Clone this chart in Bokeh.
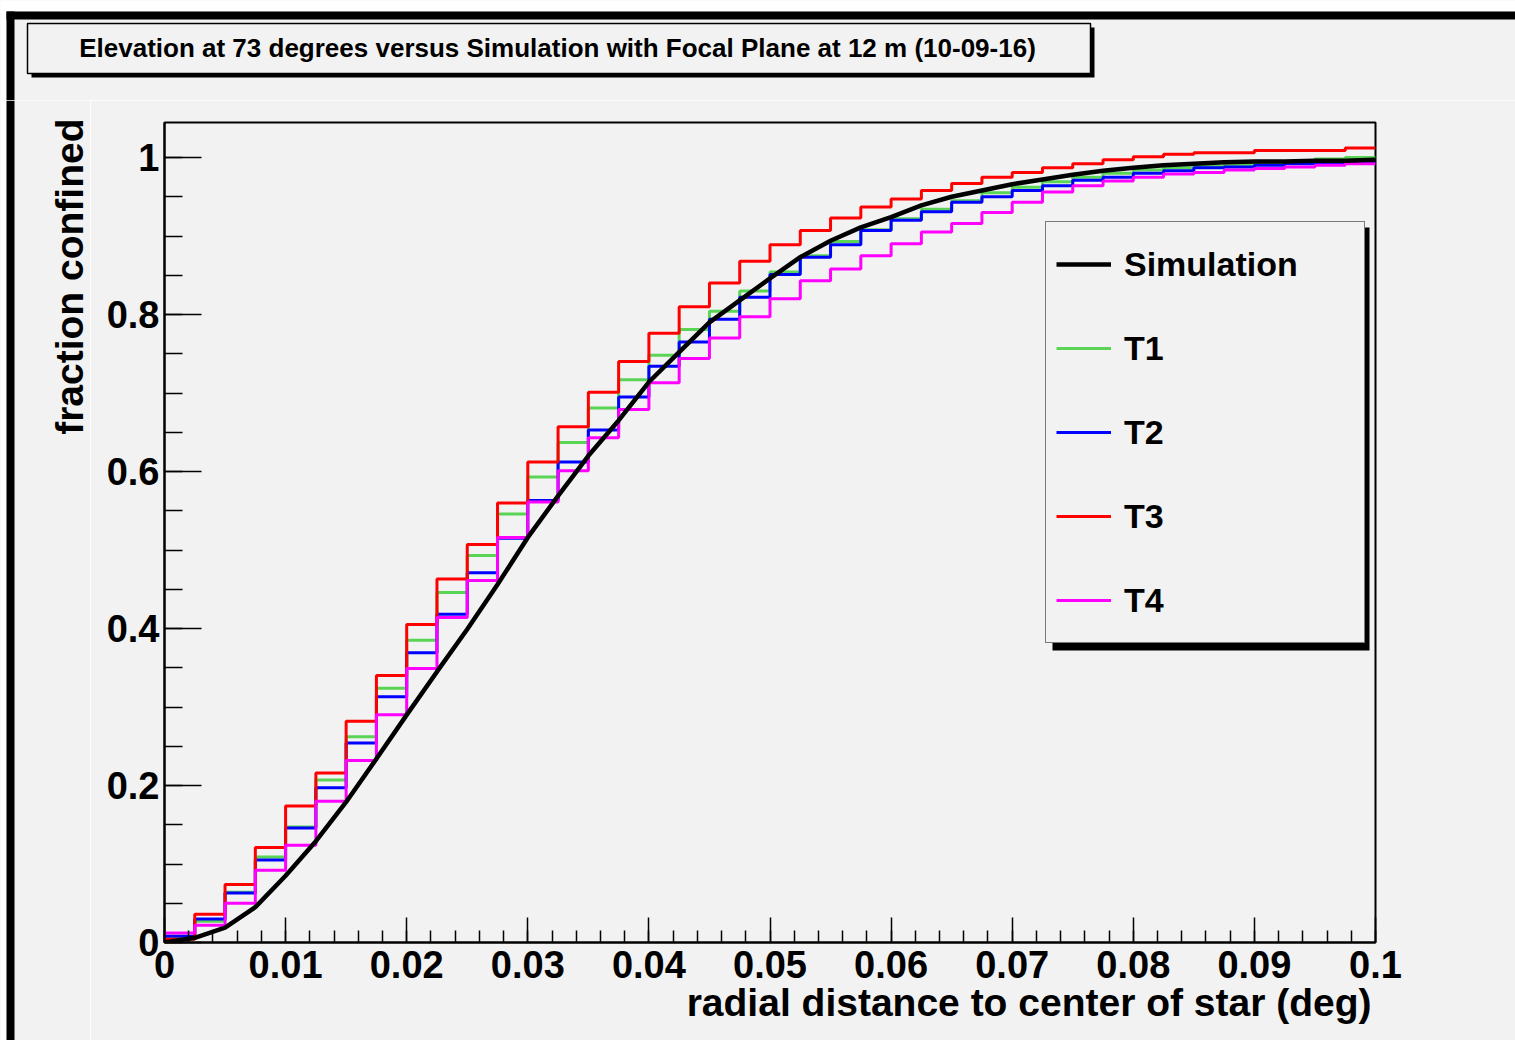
import numpy as np
from bokeh.plotting import figure
from bokeh.layouts import column, row
from bokeh.models import (Range1d, FixedTicker, Legend, LegendItem, BoxAnnotation, Title,
                          LinearAxis)
from bokeh.core.properties import value
from bokeh.embed import file_html
from bokeh.resources import INLINE

# ---------------- data ----------------
bin_edges = [round(i * 0.0025, 4) for i in range(41)]

sim_x = bin_edges
sim_y = [0.000, 0.006, 0.019, 0.045, 0.085, 0.129, 0.179, 0.234, 0.290, 0.345,
         0.399, 0.456, 0.516, 0.569, 0.620, 0.665, 0.714, 0.752, 0.790, 0.818,
         0.846, 0.873, 0.894, 0.911, 0.924, 0.939, 0.950, 0.958, 0.966, 0.972,
         0.978, 0.983, 0.987, 0.990, 0.992, 0.994, 0.995, 0.995, 0.996, 0.996,
         0.997]

t1 = [0.008, 0.027, 0.064, 0.109, 0.147, 0.207, 0.262, 0.324, 0.385, 0.446,
      0.493, 0.546, 0.593, 0.637, 0.681, 0.717, 0.748, 0.781, 0.804, 0.830,
      0.854, 0.875, 0.893, 0.908, 0.922, 0.934, 0.945, 0.955, 0.962, 0.969,
      0.975, 0.980, 0.984, 0.987, 0.989, 0.991, 0.993, 0.995, 0.998, 1.000]

t2 = [0.008, 0.030, 0.063, 0.105, 0.146, 0.197, 0.254, 0.313, 0.369, 0.418,
      0.471, 0.515, 0.563, 0.612, 0.653, 0.695, 0.734, 0.765, 0.794, 0.822,
      0.851, 0.873, 0.889, 0.907, 0.920, 0.931, 0.943, 0.950, 0.958, 0.964,
      0.971, 0.975, 0.980, 0.983, 0.987, 0.988, 0.990, 0.992, 0.993, 0.995]

t3 = [0.004, 0.036, 0.074, 0.121, 0.174, 0.216, 0.282, 0.340, 0.405, 0.463,
      0.507, 0.560, 0.612, 0.657, 0.701, 0.740, 0.776, 0.810, 0.840, 0.868,
      0.889, 0.907, 0.923, 0.937, 0.947, 0.958, 0.967, 0.975, 0.981, 0.987,
      0.992, 0.997, 1.001, 1.004, 1.006, 1.006, 1.009, 1.009, 1.009, 1.012]

t4 = [0.012, 0.022, 0.050, 0.092, 0.124, 0.180, 0.232, 0.290, 0.349, 0.414,
      0.461, 0.516, 0.561, 0.601, 0.643, 0.679, 0.713, 0.744, 0.770, 0.797,
      0.820, 0.843, 0.858, 0.875, 0.890, 0.905, 0.916, 0.930, 0.943, 0.956,
      0.964, 0.970, 0.975, 0.979, 0.981, 0.984, 0.986, 0.988, 0.990, 0.992]

x_major = [0, 0.01, 0.02, 0.03, 0.04, 0.05, 0.06, 0.07, 0.08, 0.09, 0.1]
x_labels = ["0", "0.01", "0.02", "0.03", "0.04", "0.05", "0.06", "0.07", "0.08", "0.09", "0.1"]
x_minor = [round(i * 0.002, 3) for i in range(51)]
y_major = [0, 0.2, 0.4, 0.6, 0.8, 1.0]
y_labels = ["0", "0.2", "0.4", "0.6", "0.8", "1"]
y_minor = [round(i * 0.05, 2) for i in range(21)]

series_names = ["Simulation", "T1", "T2", "T3", "T4"]
series_colors = ["black", "#59d454", "#0000ff", "#ff0000", "#ff00ff"]

title_text = "Elevation at 73 degrees versus Simulation with Focal Plane at 12 m (10-09-16)"
x_title = "radial distance to center of star (deg)"
y_title = "fraction confined"

# ---------------- layout constants (page pixels) ----------------
FONT = "Liberation Sans"
BG = "#f2f2f2"
W = 1515
H = 1040
TOP_H = 100         # top strip: page y 0..100
LEFT_W = 90         # left strip: page x 0..90
MAIN_H = H - TOP_H  # main row: page y 100..1040
BASE_SHIFT = 0.37   # em offset of the rendered alphabetic baseline


def deco_fig(w, h):
    f = figure(width=w, height=h, output_backend="svg", toolbar_location=None,
               title=None, x_axis_type=None, y_axis_type=None,
               x_range=Range1d(0, w), y_range=Range1d(0, h), min_border=0)
    f.background_fill_color = BG
    f.border_fill_color = BG
    f.outline_line_color = None
    f.xgrid.visible = False
    f.ygrid.visible = False
    if "frame_align" in f.properties():
        f.frame_align = False
    return f


def rect(f, h, x0, x1, y0, y1, fill, line=None, lw=0):
    # y0, y1 measured downward from the strip's top edge
    f.quad(left=x0, right=x1, top=h - y0, bottom=h - y1, fill_color=fill,
           line_color=line, line_width=lw)


# ---- top strip ----
top = deco_fig(W, TOP_H)
rect(top, TOP_H, 0, W, 0, 11, "white")
rect(top, TOP_H, 0, 6, 0, TOP_H, "white")
rect(top, TOP_H, 6, W, 11, 19, "black")
rect(top, TOP_H, 6, 14, 11, TOP_H, "black")
rect(top, TOP_H, 31, 1094, 27, 77, "black")                # title box shadow
rect(top, TOP_H, 27, 1090, 23, 73, BG, "black", 1.5)       # title box
top.text(x=[557], y=[TOP_H - 57.5 + BASE_SHIFT * 26], text=[title_text], text_align="center",
         text_baseline="alphabetic", text_font=value(FONT), text_font_style="bold",
         text_font_size=value("26px"), text_color="black")

# ---- left strip ----
left = deco_fig(LEFT_W, MAIN_H)
rect(left, MAIN_H, 0, 6, 0, MAIN_H, "white")
rect(left, MAIN_H, 6, 14, 0, MAIN_H, "black")
left.text(x=[83 - BASE_SHIFT * 39], y=[MAIN_H - (118 - TOP_H)], text=[y_title], angle=np.pi / 2,
          text_align="right", text_baseline="alphabetic", text_font=value(FONT),
          text_font_style="bold", text_font_size=value("39px"), text_color="black")

# ---- main plot; frame at page (164..1375, 122..942) ----
p = figure(width=W - LEFT_W, height=MAIN_H, output_backend="svg", toolbar_location=None,
           title=None, x_range=Range1d(0, 0.1), y_range=Range1d(0, 1.0446),
           min_border_left=164 - LEFT_W, min_border_right=W - 1375,
           min_border_top=122 - TOP_H, min_border_bottom=H - 942)
if "frame_align" in p.properties():
    p.frame_align = False
p.background_fill_color = BG
p.border_fill_color = BG
p.outline_line_color = "black"
p.outline_line_width = 2
p.xgrid.visible = False
p.ygrid.visible = False

for ax in (p.xaxis[0], p.yaxis[0]):
    ax.axis_line_color = "black"
    ax.axis_line_width = 2
    ax.major_tick_line_color = "black"
    ax.minor_tick_line_color = "black"
    ax.major_tick_line_width = 1.5
    ax.minor_tick_line_width = 1.5
    ax.major_tick_out = 0
    ax.minor_tick_out = 0
    ax.major_label_text_font = FONT
    ax.major_label_text_font_style = "bold"
    ax.major_label_text_font_size = "38px"
    ax.major_label_text_color = "black"

p.xaxis.ticker = FixedTicker(ticks=x_major, minor_ticks=x_minor)
p.xaxis.major_label_overrides = {v: s for v, s in zip(x_major, x_labels)}
p.xaxis.major_tick_in = 25
p.xaxis.minor_tick_in = 12
p.xaxis.major_label_standoff = 8

p.yaxis.ticker = FixedTicker(ticks=y_major, minor_ticks=y_minor)
p.yaxis.major_label_overrides = {v: s for v, s in zip(y_major, y_labels)}
p.yaxis.major_tick_in = 37
p.yaxis.minor_tick_in = 18
p.yaxis.major_label_standoff = 5

# small empty spacer between the tick labels and the axis title
p.add_layout(LinearAxis(ticker=FixedTicker(ticks=[], minor_ticks=[]), axis_line_color=None,
                        major_tick_out=4, minor_tick_out=0, major_tick_in=0, minor_tick_in=0,
                        major_label_standoff=0, major_tick_line_color=None,
                        minor_tick_line_color=None), "below")
# x-axis title, right aligned under the axis
p.add_layout(Title(text=x_title, align="right", vertical_align="top", standoff=0, offset=4,
                   text_font=FONT, text_font_style="bold", text_font_size="39px",
                   text_color="black"), "below")


def hist(vals, color):
    ys = list(vals) + [vals[-1]]
    return p.step(x=bin_edges, y=ys, mode="after", line_color=color, line_width=3)


r1 = hist(t1, series_colors[1])
r2 = hist(t2, series_colors[2])
r3 = hist(t3, series_colors[3])
r4 = hist(t4, series_colors[4])
rs = p.line(x=sim_x, y=sim_y, line_color=series_colors[0], line_width=4.5)

# legend shadow (screen units relative to the frame) + legend
p.add_layout(BoxAnnotation(left=888, right=1205, bottom=292, top=715,
                           left_units="screen", right_units="screen",
                           bottom_units="screen", top_units="screen",
                           fill_color="black", fill_alpha=1.0, line_alpha=0.0))
legend = Legend(items=[LegendItem(label=n, renderers=[r])
                       for n, r in zip(series_names, [rs, r1, r2, r3, r4])],
                location=(881, 299), orientation="vertical",
                glyph_width=55, glyph_height=64, label_height=64, label_width=230,
                label_standoff=13, spacing=20, padding=10, margin=0,
                background_fill_color=BG, background_fill_alpha=1.0,
                border_line_color="black", border_line_width=1.5,
                label_text_font=FONT, label_text_font_style="bold",
                label_text_font_size="34px", label_text_color="black")
p.add_layout(legend)

layout = column(top, row(left, p, spacing=0), spacing=0)
open("out.html", "w").write(file_html(layout, INLINE))
